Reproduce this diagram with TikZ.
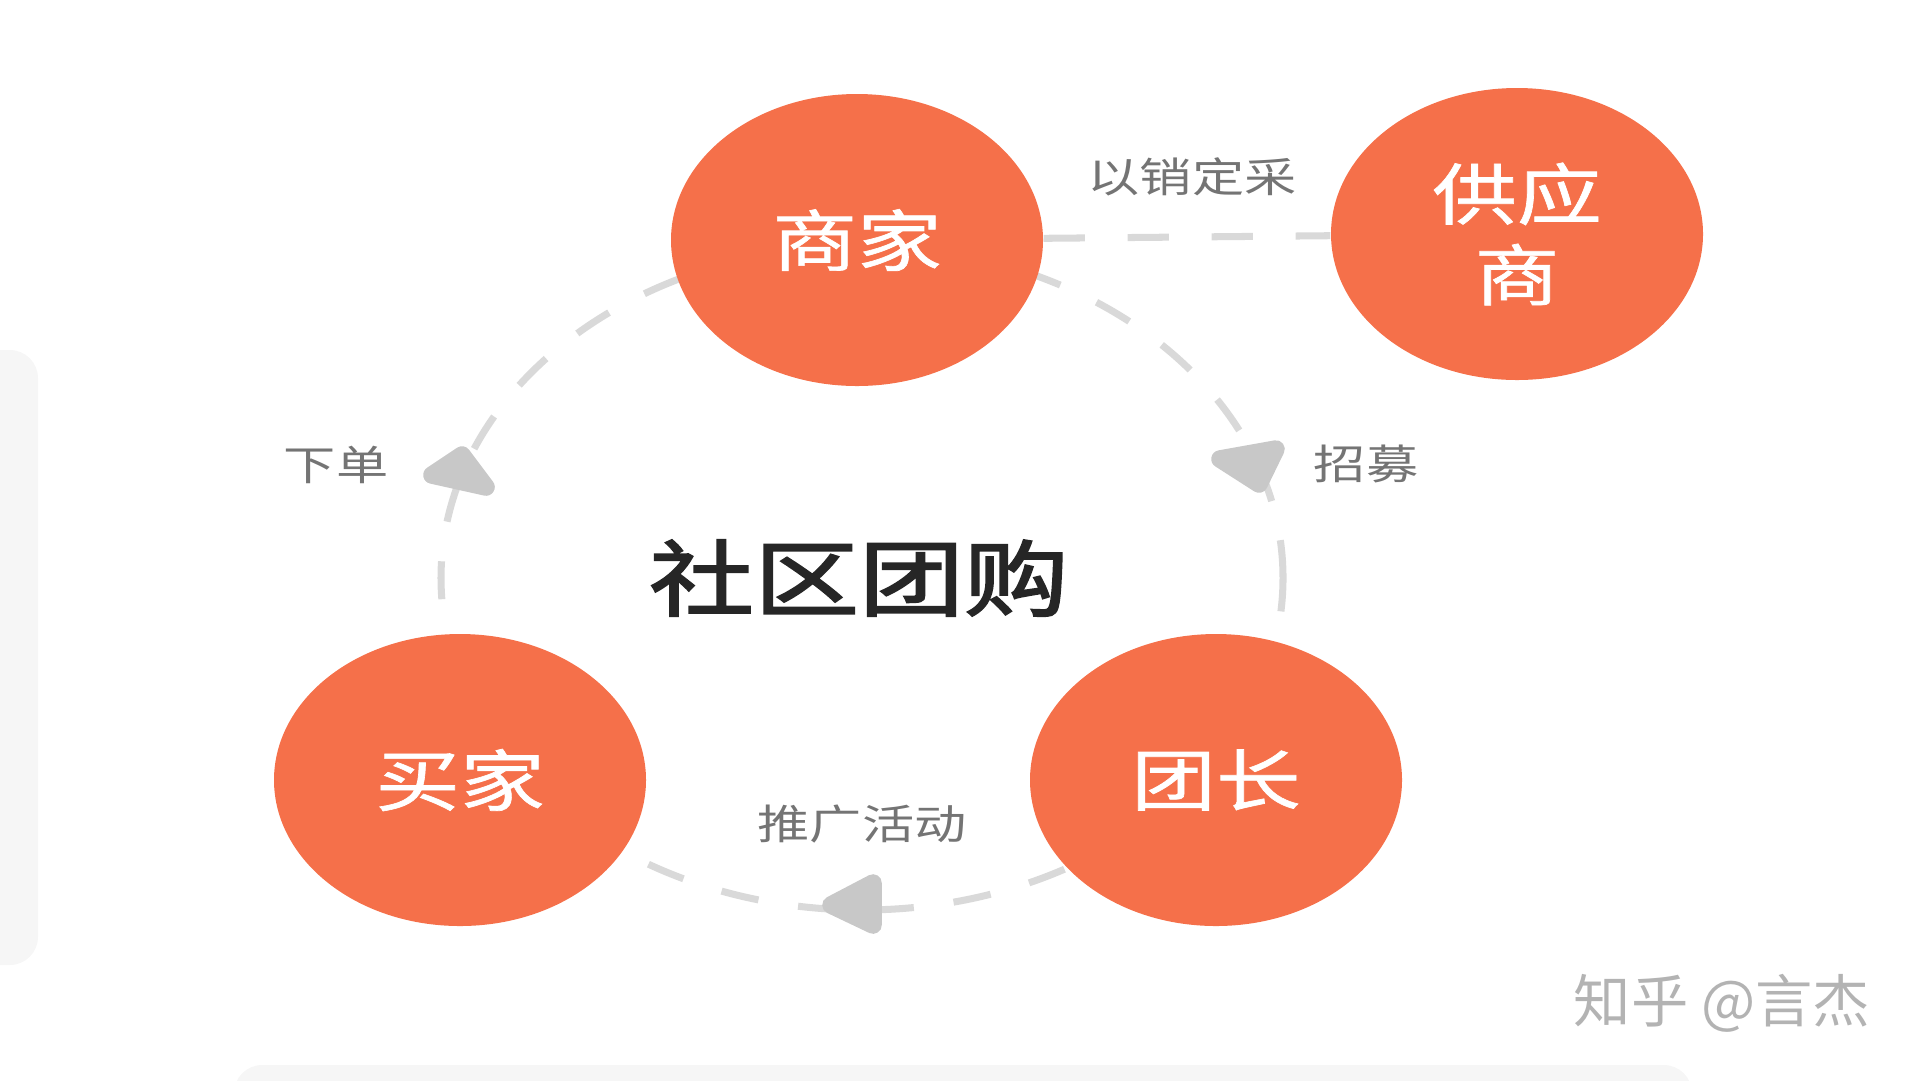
\documentclass[tikz,border=0pt]{standalone}
\usepackage{fontspec}
\setmainfont{Noto Sans CJK SC}[FakeStretch=1.27]
\newfontfamily\actorfont{Noto Sans CJK SC}[FakeStretch=1.27, FakeBold=1]
\newfontfamily\hubfont{Noto Sans CJK SC}[FakeStretch=1.27, FakeBold=2.5]
\newfontfamily\signfont{Noto Sans CJK SC}
\usetikzlibrary{shapes.geometric}

\definecolor{tuanorange}{HTML}{F5704A}
\definecolor{ringgray}{HTML}{D9D9D9}
\definecolor{headgray}{HTML}{C8C8C8}
\definecolor{notegray}{HTML}{747474}
\definecolor{hubblack}{HTML}{262626}
\definecolor{signgray}{HTML}{B3B3B3}
\definecolor{pagegray}{HTML}{F6F6F6}

\begin{document}
\begin{tikzpicture}[scale=0.2]
    \tikzstyle{every node}+=[inner sep=0pt]
    \tikzstyle{actor}=[ellipse, fill=tuanorange, minimum width=3.72cm, minimum height=2.92cm, text=white, align=center, font=\fontsize{19}{23}\selectfont\actorfont]
    \tikzstyle{ring}=[ringgray, line width=2pt, dash pattern=on 10.8pt off 11.4pt]
    \tikzstyle{link}=[ringgray, line width=2pt, dash pattern=on 11.7pt off 12.2pt]
    \tikzstyle{headfill}=[headgray, line width=5pt, line join=round]
    \tikzstyle{note}=[text=notegray, font=\fontsize{11.7}{14}\selectfont]
    \useasboundingbox (0,0) rectangle (96,-54);
    \fill [pagegray, rounded corners=8pt] (-2,-17.5) rectangle (1.9,-48.25);
    \fill [pagegray, rounded corners=8pt] (11.7,-53.25) rectangle (84.6,-56);
    \draw [ring] (43.1,-28.9) ellipse (21.05 and 16.6);
    \node [actor] (shop) at (42.85,-12) {商家};
    \node [actor] (supplier) at (75.85,-11.7) {供应\\商};
    \node [actor] (buyer) at (23,-39) {买家};
    \node [actor] (leader) at (60.8,-39) {团长};
    \draw [link] (shop) -- (supplier);
    \filldraw [headfill] (61,-22.95) -- (63.8,-22.45) -- (62.95,-24.2) -- cycle;
    \filldraw [headfill] (41.55,-45.25) -- (43.65,-44.15) -- (43.65,-46.25) -- cycle;
    \filldraw [headfill] (23.1,-22.75) -- (21.6,-23.75) -- (24.3,-24.35) -- cycle;
    \node [note] (buy) at (59.6,-8.85) {以销定采};
    \node [note] (order) at (16.8,-23.25) {下单};
    \node [note] (recruit) at (68.3,-23.2) {招募};
    \node [note] (promo) at (43.1,-41.2) {推广活动};
    \node [text=hubblack, font=\fontsize{23.5}{28}\selectfont\hubfont] (hub) at (42.95,-28.9) {社区团购};
    \node [text=signgray, font=\fontsize{16.3}{19}\selectfont\signfont] (sign) at (86.1,-50.15) {知乎 @言杰};
\end{tikzpicture}
\end{document}
